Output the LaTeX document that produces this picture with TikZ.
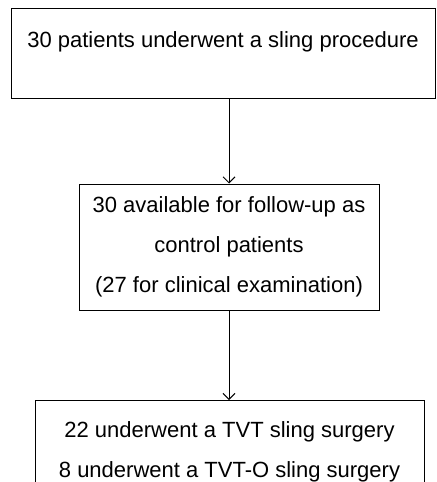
\documentclass[tikz,border=0pt]{standalone}
\usepackage{fontspec}
\setmainfont{Liberation Sans}
\usetikzlibrary{arrows.meta}

\begin{document}
\begin{tikzpicture}[x=0.5pt,y=-0.5pt,
    box/.style={draw, line width=0.5pt, inner sep=0pt, align=center,
        font=\fontsize{11pt}{20pt}\selectfont},
    flow/.style={line width=0.5pt, -{Straight Barb[length=3pt,width=6pt]}}]
    % Fix the page size
    \useasboundingbox (0,0) rectangle (436,482);
    \clip (0,0) rectangle (436,482);

    % Define the boxes
    \node[box, anchor=north, minimum width=212pt, text height=19.5pt, text depth=25.5pt]
        (sling) at (223,8) {30 patients underwent a sling procedure};
    \node[box, minimum width=150pt, minimum height=63pt]
        (control) at (229,247) {30 available for follow-up as\\control patients\\(27 for clinical examination)};
    \node[box, anchor=north, minimum width=194.5pt, minimum height=51pt]
        (surgery) at (229.5,400) {22 underwent a TVT sling surgery\\8 underwent a TVT-O sling surgery};

    % Draw arrows
    \draw[flow] (sling.south -| control.north) -- (control.north);
    \draw[flow] (control.south) -- (surgery.north -| control.south);
\end{tikzpicture}
\end{document}
